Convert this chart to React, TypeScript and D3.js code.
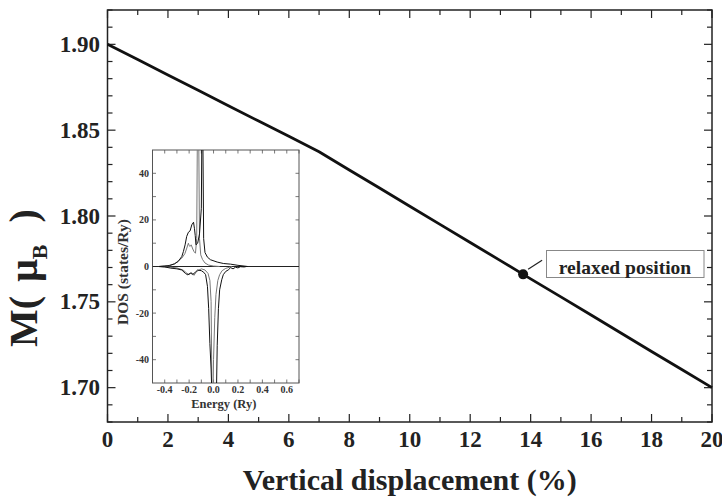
import React from "react";
import * as d3 from "d3";

// Magnetic moment versus vertical displacement
const DISPLACEMENT = [0, 1, 2, 3, 4, 5, 6, 7, 8, 9, 10, 11, 12, 13, 14, 15, 16, 17, 18, 19, 20];
const MOMENT = [
  1.9, 1.8911, 1.8821, 1.8732, 1.8642, 1.8553, 1.8464, 1.8374, 1.8268, 1.8163, 1.8057,
  1.7951, 1.7846, 1.774, 1.7634, 1.7529, 1.7423, 1.7317, 1.7211, 1.7106, 1.7,
];
const RELAXED_DISPLACEMENT = 13.75;
const RELAXED_MOMENT = 1.766;
const RELAXED_LABEL = "relaxed position";

const X_TICKS = [0, 2, 4, 6, 8, 10, 12, 14, 16, 18, 20];
const Y_TICKS = [1.7, 1.75, 1.8, 1.85, 1.9];

// Inset: spin-resolved density of states (Ry)
const UP_A_E = [-0.45, -0.4, -0.36, -0.32, -0.29, -0.26, -0.247, -0.233, -0.22, -0.206, -0.192, -0.178, -0.164, -0.156, -0.15, -0.144, -0.13, -0.115, -0.1, -0.095, -0.088, -0.081, -0.07, -0.05, -0.025, 0.03, 0.08, 0.14, 0.2, 0.25, 0.28];
const UP_A_D = [0, 0.2, 0.4, 1.2, 2.1, 4.3, 6.4, 9.3, 12.9, 14.7, 15.3, 17.9, 19, 16.2, 13.3, 9.3, 10, 14, 25, 60, 60, 12, 6, 4, 2.9, 1.9, 1.3, 1.0, 0.5, 0.2, 0];
const UP_B_E = [-0.45, -0.38, -0.32, -0.289, -0.26, -0.235, -0.219, -0.206, -0.2, -0.192, -0.183, -0.17, -0.16, -0.148, -0.138, -0.132, -0.122, -0.115, -0.105, -0.09, -0.07, -0.04, 0, 0.05];
const UP_B_D = [0, 0.3, 1.0, 2.5, 3.6, 5.5, 7.9, 10, 9, 8.6, 9.3, 7.5, 6.4, 5.7, 12, 60, 60, 12, 5, 3, 1.5, 0.6, 0.2, 0];
const DN_A_E = [-0.45, -0.4, -0.35, -0.3, -0.26, -0.23, -0.21, -0.19, -0.17, -0.15, -0.13, -0.1, -0.08, -0.065, -0.05, -0.04, -0.03, -0.02, -0.015, 0.008, 0.022, 0.03, 0.04, 0.05, 0.067, 0.08, 0.1, 0.12, 0.14, 0.16, 0.18, 0.2, 0.22, 0.25, 0.27];
const DN_A_D = [0, -0.2, -0.7, -1.0, -1.5, -3.0, -3.6, -2.8, -3.4, -2.5, -1.5, -1.8, -2.5, -3.5, -8.5, -18, -33, -44, -52, -60, -60, -34, -18, -10, -5.7, -3.5, -2.1, -1.5, -0.5, -1.0, -0.3, -0.6, -0.1, -0.2, 0];
const DN_B_E = [-0.45, -0.35, -0.3, -0.25, -0.22, -0.2, -0.18, -0.16, -0.14, -0.1, -0.07, -0.045, -0.03, -0.02, -0.012, -0.006, 0.0, 0.01, 0.02, 0.035, 0.05, 0.07, 0.1, 0.15];
const DN_B_D = [0, -0.3, -0.6, -1.5, -2.8, -3.5, -2.6, -3.8, -2.2, -1.0, -1.5, -3.0, -6, -15, -60, -60, -40, -22, -12, -6, -3.5, -1.8, -0.8, 0];

const INSET_X_LABELS = [-0.4, -0.2, 0.0, 0.2, 0.4, 0.6];
const INSET_Y_LABELS = [-40, -20, 0, 20, 40];

const FONT = "Liberation Serif, Tinos, DejaVu Serif, Times New Roman, serif";

export default function App() {
  const W = 722;
  const H = 501;
  const frame = { left: 107.5, right: 712, top: 10, bottom: 422 };
  const x = d3.scaleLinear().domain([0, 20]).range([frame.left, frame.right]);
  const y = d3.scaleLinear().domain([1.68, 1.92]).range([frame.bottom, frame.top]);

  const inset = { left: 152.5, right: 299, top: 150, bottom: 383 };
  const ix = d3.scaleLinear().domain([-0.5, 0.7]).range([inset.left, inset.right]);
  const iy = d3.scaleLinear().domain([-50, 50]).range([inset.bottom, inset.top]);

  const mainLine = d3
    .line<number>()
    .x((_, i) => x(DISPLACEMENT[i]))
    .y((d) => y(d));

  const dosLine = (es: number[], ds: number[]) =>
    d3
      .line<number>()
      .x((_, i) => ix(es[i]))
      .y((d) => iy(d))(ds) || "";

  const xMinor = d3.range(0, 21, 1);
  const yMinor = d3.range(0, 25).map((k) => +(1.68 + k * 0.01).toFixed(2));
  const ixMinor = d3.range(-5, 8).map((k) => +(k * 0.1).toFixed(1));
  const iyMinor = d3.range(-4, 5).map((k) => k * 10);

  const majorLen = 8;
  const minorLen = 5;
  const iTick = 3.5;

  const dotX = x(RELAXED_DISPLACEMENT);
  const dotY = y(RELAXED_MOMENT);
  const txt = { fontFamily: FONT };

  return (
    <svg
      width={W}
      height={H}
      viewBox={`0 0 ${W} ${H}`}
      style={{ position: "absolute", left: 0, top: 0, background: "#fff", fontFamily: FONT }}
    >
      <rect x={0} y={0} width={W} height={H} fill="#fff" />
      <defs>
        <clipPath id="inset-clip">
          <rect x={inset.left} y={inset.top} width={inset.right - inset.left} height={inset.bottom - inset.top} />
        </clipPath>
      </defs>

      {/* main frame */}
      <rect
        x={frame.left}
        y={frame.top}
        width={frame.right - frame.left}
        height={frame.bottom - frame.top}
        fill="none"
        stroke="#222"
        strokeWidth={1.5}
      />

      {/* x ticks, bottom and top */}
      {xMinor.map((v) => {
        const len = v % 2 === 0 ? majorLen : minorLen;
        return (
          <g key={`xt${v}`} stroke="#222" strokeWidth={1.2}>
            <line x1={x(v)} x2={x(v)} y1={frame.bottom} y2={frame.bottom - len} />
            <line x1={x(v)} x2={x(v)} y1={frame.top} y2={frame.top + len} />
          </g>
        );
      })}
      {/* y ticks, left and right */}
      {yMinor.map((v, k) => {
        const len = k % 5 === 2 ? majorLen : minorLen;
        return (
          <g key={`yt${k}`} stroke="#222" strokeWidth={1.2}>
            <line x1={frame.left} x2={frame.left + len} y1={y(v)} y2={y(v)} />
            <line x1={frame.right} x2={frame.right - len} y1={y(v)} y2={y(v)} />
          </g>
        );
      })}

      {X_TICKS.map((v) => (
        <text key={`xl${v}`} style={txt} x={x(v)} y={447} textAnchor="middle" fontSize={23} fontWeight="bold" fill="#222">
          {v}
        </text>
      ))}
      {Y_TICKS.map((v) => (
        <text key={`yl${v}`} style={txt} x={100} y={y(v) + 7.5} textAnchor="end" fontSize={23} fontWeight="bold" fill="#222">
          {v.toFixed(2)}
        </text>
      ))}

      <text style={txt} x={(frame.left + frame.right) / 2} y={490} textAnchor="middle" fontSize={30} fontWeight="bold" fill="#222">
        Vertical displacement (%)
      </text>
      <text style={txt} transform="translate(37,278) rotate(-90)" textAnchor="middle" fontSize={40} fontWeight="bold" fill="#222">
        M(
        <tspan dx={14}>μ</tspan>
        <tspan fontSize={22} dy={10}>B</tspan>
        <tspan dy={-10} dx={22}>)</tspan>
      </text>

      {/* moment curve */}
      <path d={mainLine(MOMENT) || ""} fill="none" stroke="#111" strokeWidth={2.8} strokeLinejoin="round" />

      {/* relaxed position marker and label */}
      <circle cx={dotX} cy={dotY} r={5} fill="#111" />
      <line x1={dotX + 5} y1={dotY - 5} x2={dotX + 19} y2={dotY - 14} stroke="#222" strokeWidth={1.2} />
      <rect x={546.5} y={250.5} width={157.5} height={27} fill="#fff" stroke="#888" strokeWidth={1} />
      <text style={txt} x={625} y={274} textAnchor="middle" fontSize={19.5} fontWeight="bold" fill="#222">
        {RELAXED_LABEL}
      </text>

      {/* inset */}
      <rect
        x={inset.left}
        y={inset.top}
        width={inset.right - inset.left}
        height={inset.bottom - inset.top}
        fill="#fff"
        stroke="#555"
        strokeWidth={1}
      />
      {ixMinor.map((v) => (
        <g key={`ixt${v}`} stroke="#555" strokeWidth={0.8}>
          <line x1={ix(v)} x2={ix(v)} y1={inset.bottom} y2={inset.bottom - iTick} />
          <line x1={ix(v)} x2={ix(v)} y1={inset.top} y2={inset.top + iTick} />
        </g>
      ))}
      {iyMinor.map((v) => (
        <g key={`iyt${v}`} stroke="#555" strokeWidth={0.8}>
          <line x1={inset.left} x2={inset.left + iTick} y1={iy(v)} y2={iy(v)} />
          <line x1={inset.right} x2={inset.right - iTick} y1={iy(v)} y2={iy(v)} />
        </g>
      ))}
      {INSET_X_LABELS.map((v) => (
        <text key={`ixl${v}`} style={txt} x={ix(v)} y={393} textAnchor="middle" fontSize={10} fontWeight="bold" fill="#333">
          {v.toFixed(1)}
        </text>
      ))}
      {INSET_Y_LABELS.map((v) => (
        <text key={`iyl${v}`} style={txt} x={149} y={iy(v) + 3.4} textAnchor="end" fontSize={10} fontWeight="bold" fill="#333">
          {v}
        </text>
      ))}
      <text style={txt} x={(inset.left + inset.right) / 2 - 2} y={408} textAnchor="middle" fontSize={12.5} fontWeight="bold" fill="#333">
        Energy (Ry)
      </text>
      <text style={txt} transform="translate(128,272) rotate(-90)" textAnchor="middle" fontSize={15.5} fontWeight="bold" fill="#333">
        DOS (states/Ry)
      </text>

      <g clipPath="url(#inset-clip)" fill="none">
        <line x1={inset.left} x2={inset.right} y1={iy(0)} y2={iy(0)} stroke="#222" strokeWidth={1} />
        <path d={dosLine(UP_B_E, UP_B_D)} stroke="#777" strokeWidth={1} />
        <path d={dosLine(DN_B_E, DN_B_D)} stroke="#777" strokeWidth={1} />
        <path d={dosLine(UP_A_E, UP_A_D)} stroke="#111" strokeWidth={1} />
        <path d={dosLine(DN_A_E, DN_A_D)} stroke="#111" strokeWidth={1} />
      </g>
    </svg>
  );
}
